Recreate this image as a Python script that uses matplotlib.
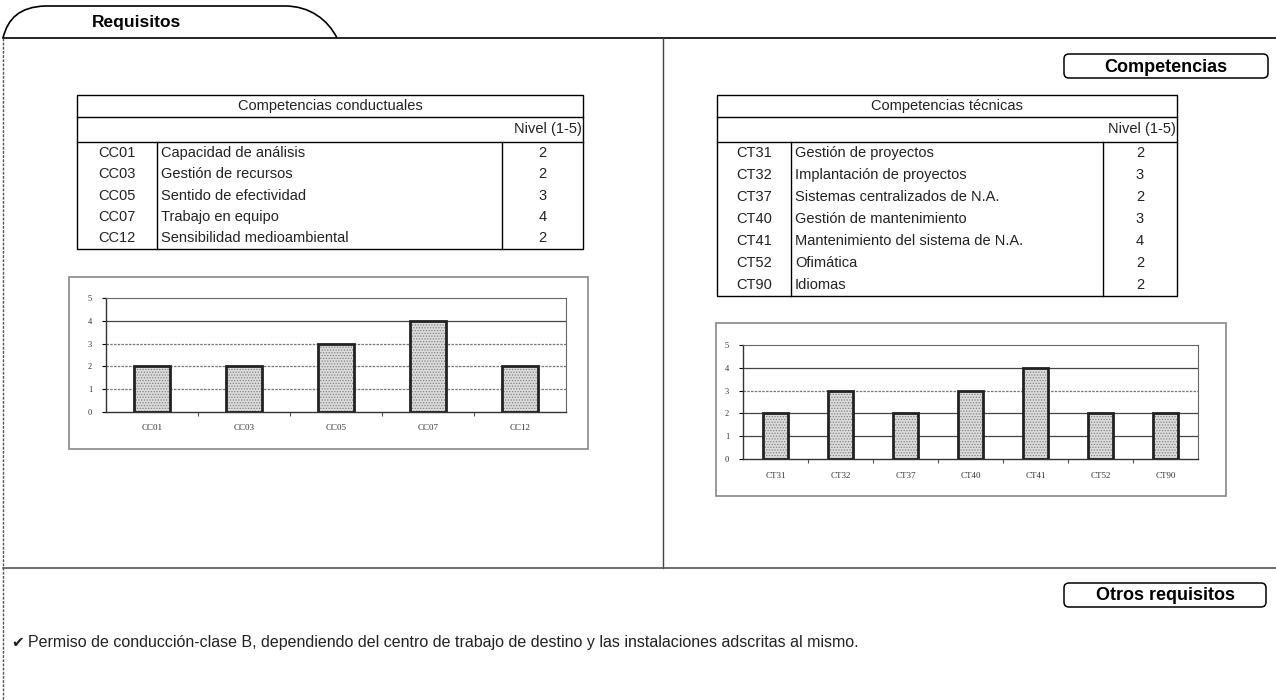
import matplotlib.pyplot as plt
from matplotlib.patches import Rectangle, FancyBboxPatch, PathPatch
from matplotlib.path import Path

# datos de las tablas
cc_codes = ['CC01', 'CC03', 'CC05', 'CC07', 'CC12']
cc_names = ['Capacidad de análisis', 'Gestión de recursos', 'Sentido de efectividad',
            'Trabajo en equipo', 'Sensibilidad medioambiental']
cc_levels = [2, 2, 3, 4, 2]

ct_codes = ['CT31', 'CT32', 'CT37', 'CT40', 'CT41', 'CT52', 'CT90']
ct_names = ['Gestión de proyectos', 'Implantación de proyectos', 'Sistemas centralizados de N.A.',
            'Gestión de mantenimiento', 'Mantenimiento del sistema de N.A.', 'Ofimática', 'Idiomas']
ct_levels = [2, 3, 2, 3, 4, 2, 2]

other_req = 'Permiso de conducción-clase B, dependiendo del centro de trabajo de destino y las instalaciones adscritas al mismo.'

W, H = 1276, 700
plt.rcParams['font.family'] = ['Liberation Sans', 'DejaVu Sans']
plt.rcParams['hatch.linewidth'] = 0.6

fig = plt.figure(figsize=(W / 100, H / 100), dpi=100)
bg = fig.add_axes([0, 0, 1, 1])
bg.set_xlim(0, W)
bg.set_ylim(H, 0)
bg.axis('off')

# marco general
tab = Path([(3, 38), (8, 18), (20, 7), (45, 6), (285, 6), (310, 6), (328, 20), (337, 38)],
           [Path.MOVETO, Path.CURVE4, Path.CURVE4, Path.CURVE4, Path.LINETO,
            Path.CURVE4, Path.CURVE4, Path.CURVE4])
bg.add_patch(PathPatch(tab, fill=False, lw=1.2, color='black'))
bg.text(92, 23, 'Requisitos', fontsize=12.5, fontweight='bold', va='center')
bg.plot([3, W], [38, 38], color='black', lw=1.2)
bg.plot([3, 3], [38, H], color='#555555', lw=1, ls=(0, (2, 1)))
bg.plot([663, 663], [38, 568], color='#444444', lw=1)
bg.plot([3, W], [568, 568], color='#555555', lw=1.2)


def label_box(x0, x1, y0, y1, txt):
    bg.add_patch(FancyBboxPatch((x0, y0), x1 - x0, y1 - y0,
                                boxstyle='round,pad=0,rounding_size=5',
                                fill=False, lw=1.1, ec='black'))
    bg.text((x0 + x1) / 2, (y0 + y1) / 2 + 1, txt, fontsize=13, fontweight='bold',
            ha='center', va='center')


label_box(1064, 1268, 54, 78, 'Competencias')
label_box(1064, 1266, 583, 607, 'Otros requisitos')


def table(x0, x1, xc1, xc2, title, codes, names, levels, rh):
    top, t1, t2 = 95, 117, 142
    bottom = t2 + rh * len(codes)
    bg.add_patch(Rectangle((x0, top), x1 - x0, bottom - top, fill=False, lw=1, ec='black'))
    bg.plot([x0, x1], [t1, t1], color='black', lw=1)
    bg.plot([x0, x1], [t2, t2], color='black', lw=1)
    bg.plot([xc1, xc1], [t2, bottom], color='black', lw=1)
    bg.plot([xc2, xc2], [t2, bottom], color='black', lw=1)
    bg.text((x0 + x1) / 2, (top + t1) / 2, title, fontsize=10.5, ha='center', va='center', color='#222222')
    bg.text(x1 - 1, (t1 + t2) / 2, 'Nivel (1-5)', fontsize=10.5, ha='right', va='center', color='#222222')
    for i, (c, n, l) in enumerate(zip(codes, names, levels)):
        y = t2 + rh * (i + 0.5)
        bg.text((x0 + xc1) / 2, y, c, fontsize=10.5, ha='center', va='center', color='#222222')
        bg.text(xc1 + 4, y, n, fontsize=10.5, ha='left', va='center', color='#222222')
        bg.text((xc2 + x1) / 2, y, str(l), fontsize=10.5, ha='center', va='center', color='#222222')


table(77, 583, 157, 502, 'Competencias conductuales', cc_codes, cc_names, cc_levels, 21.4)
table(717, 1177, 791, 1103, 'Competencias técnicas', ct_codes, ct_names, ct_levels, 22)


def chart(box, area, codes, levels, solid_grid):
    bx0, bx1, by0, by1 = box
    bg.add_patch(Rectangle((bx0, by0), bx1 - bx0, by1 - by0, fill=False, lw=1.2, ec='#888888'))
    ax0, ax1, ay0, ay1 = area
    ax = fig.add_axes([ax0 / W, 1 - ay1 / H, (ax1 - ax0) / W, (ay1 - ay0) / H])
    x = range(len(codes))
    ax.bar(x, levels, width=0.39, color='#dcdcdc', edgecolor='#808080', hatch='......', lw=0, zorder=2)
    ax.bar(x, levels, width=0.39, fill=False, edgecolor='#222222', lw=2, zorder=3)
    ax.set_xlim(-0.5, len(codes) - 0.5)
    ax.set_ylim(0, 5)
    ax.set_xticks(list(x))
    ax.set_xticklabels(codes, family='Liberation Serif', fontsize=6.5, color='#333333')
    ax.set_yticks(range(6))
    ax.set_yticklabels([str(v) for v in range(6)], family='Liberation Serif', fontsize=6, color='#333333')
    ax.tick_params(axis='x', length=0, pad=9)
    ax.tick_params(axis='y', length=3, width=0.8, pad=7)
    ax.set_xticks([i + 0.5 for i in range(len(codes) - 1)], minor=True)
    ax.tick_params(axis='x', which='minor', length=3, width=0.8, color='#555555')
    for v in range(1, 5):
        if v in solid_grid:
            ax.axhline(v, color='#444444', lw=0.9, zorder=1)
        else:
            ax.axhline(v, color='#777777', lw=0.9, ls=(0, (2, 1)), zorder=1)
    for s in ['top', 'right']:
        ax.spines[s].set_color('#666666')
        ax.spines[s].set_linestyle((0, (2, 1)))
    for s in ['left', 'bottom']:
        ax.spines[s].set_color('#333333')
        ax.spines[s].set_linewidth(1)
    return ax


chart((69, 588, 277, 449), (106, 566, 298, 412), cc_codes, cc_levels, [4])
chart((716, 1226, 323, 496), (743, 1198, 345, 459), ct_codes, ct_levels, [1, 2, 4])

# otros requisitos
bg.text(11, 643, '\u2714', family='DejaVu Sans', fontsize=11, va='center', color='#222222')
bg.text(28, 643, other_req, fontsize=11.5, va='center', color='#222222')

fig.savefig('out.png', dpi=100)
